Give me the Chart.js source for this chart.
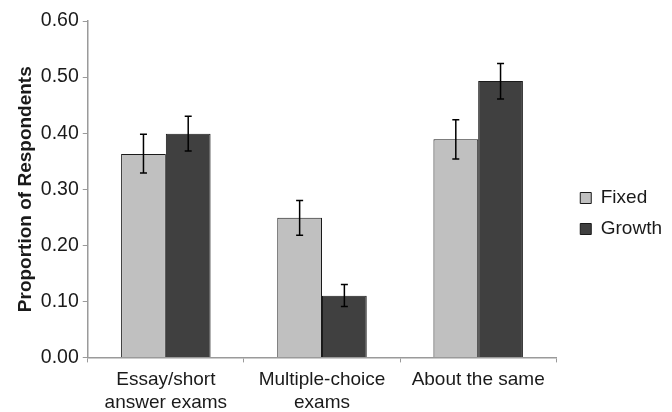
<!DOCTYPE html>
<html>
<head>
<meta charset="utf-8">
<script src="https://cdn.jsdelivr.net/npm/chart.js@4.4.1/dist/chart.umd.min.js"></script>
<style>
  html, body { margin: 0; padding: 0; background: #fff; }
  #wrap { width: 672px; height: 412px; }
</style>
</head>
<body>
<div id="wrap"><canvas id="chart"></canvas></div>
<script>
const categories = [['Essay/short', 'answer exams'], ['Multiple-choice', 'exams'], 'About the same'];
const fixedValues = [0.363, 0.249, 0.389];
const growthValues = [0.399, 0.110, 0.493];
const fixedLow = [0.329, 0.218, 0.354];
const fixedHigh = [0.398, 0.280, 0.424];
const growthLow = [0.368, 0.091, 0.461];
const growthHigh = [0.430, 0.130, 0.524];
const yTicks = [0, 0.1, 0.2, 0.3, 0.4, 0.5, 0.6];

const FONT = "Arial, 'Liberation Sans', sans-serif";
const AXIS = '#9a9a9a';

// draws the error bars on top of each bar
const errorBars = {
  id: 'errorBars',
  afterDatasetsDraw(chart) {
    const { ctx, scales } = chart;
    const y = scales.y;
    chart.data.datasets.forEach((ds, i) => {
      const meta = chart.getDatasetMeta(i);
      meta.data.forEach((bar, j) => {
        const top = y.getPixelForValue(ds.errHigh[j]);
        const bottom = y.getPixelForValue(ds.errLow[j]);
        const x = bar.x;
        ctx.save();
        ctx.strokeStyle = '#000';
        ctx.lineWidth = 1.5;
        ctx.beginPath();
        ctx.moveTo(x, top);
        ctx.lineTo(x, bottom);
        ctx.moveTo(x - 3.5, top);
        ctx.lineTo(x + 3.5, top);
        ctx.moveTo(x - 3.5, bottom);
        ctx.lineTo(x + 3.5, bottom);
        ctx.stroke();
        ctx.restore();
      });
    });
  }
};

// push the legend a little away from the plot
const legendShift = {
  id: 'legendShift',
  afterLayout(chart) {
    if (chart.legend) {
      chart.legend.left += 12;
      chart.legend.right += 12;
      chart.legend.top -= 7;
      chart.legend.bottom -= 7;
    }
  }
};

new Chart(document.getElementById('chart'), {
  type: 'bar',
  data: {
    labels: categories,
    datasets: [
      {
        label: 'Fixed',
        data: fixedValues,
        errLow: fixedLow,
        errHigh: fixedHigh,
        backgroundColor: '#c0c0c0',
        borderColor: '#1a1a1a',
        borderWidth: 1
      },
      {
        label: 'Growth',
        data: growthValues,
        errLow: growthLow,
        errHigh: growthHigh,
        backgroundColor: '#404040',
        borderColor: '#1a1a1a',
        borderWidth: 1
      }
    ]
  },
  options: {
    responsive: true,
    maintainAspectRatio: false,
    animation: false,
    categoryPercentage: 0.573,
    barPercentage: 1.0,
    layout: { padding: { top: 21, left: 14, right: 12, bottom: -8 } },
    plugins: {
      tooltip: { enabled: false },
      legend: {
        position: 'right',
        align: 'center',
        labels: {
          color: '#1a1a1a',
          font: { family: FONT, size: 19 },
          boxWidth: 11,
          boxHeight: 11,
          padding: 12
        }
      }
    },
    scales: {
      x: {
        grid: {
          display: true,
          drawOnChartArea: false,
          drawTicks: true,
          tickLength: 5,
          color: AXIS,
          offset: true
        },
        border: { display: true, color: AXIS, width: 1.5 },
        ticks: {
          color: '#1a1a1a',
          font: { family: FONT, size: 19, lineHeight: 1.2 },
          maxRotation: 0,
          padding: 6
        }
      },
      y: {
        min: 0,
        max: 0.6,
        afterBuildTicks(scale) {
          scale.ticks = yTicks.map((v) => ({ value: v }));
        },
        grid: {
          display: true,
          drawOnChartArea: false,
          drawTicks: true,
          tickLength: 5,
          color: AXIS
        },
        border: { display: true, color: AXIS, width: 1.5 },
        ticks: {
          color: '#1a1a1a',
          font: { family: FONT, size: 19.5 },
          padding: 4,
          callback: (v) => Number(v).toFixed(2)
        },
        title: {
          display: true,
          text: 'Proportion of Respondents',
          color: '#1a1a1a',
          font: { family: FONT, size: 19, weight: 'bold' },
          padding: { top: 0, bottom: 0 }
        }
      }
    }
  },
  plugins: [errorBars, legendShift]
});
</script>
</body>
</html>
